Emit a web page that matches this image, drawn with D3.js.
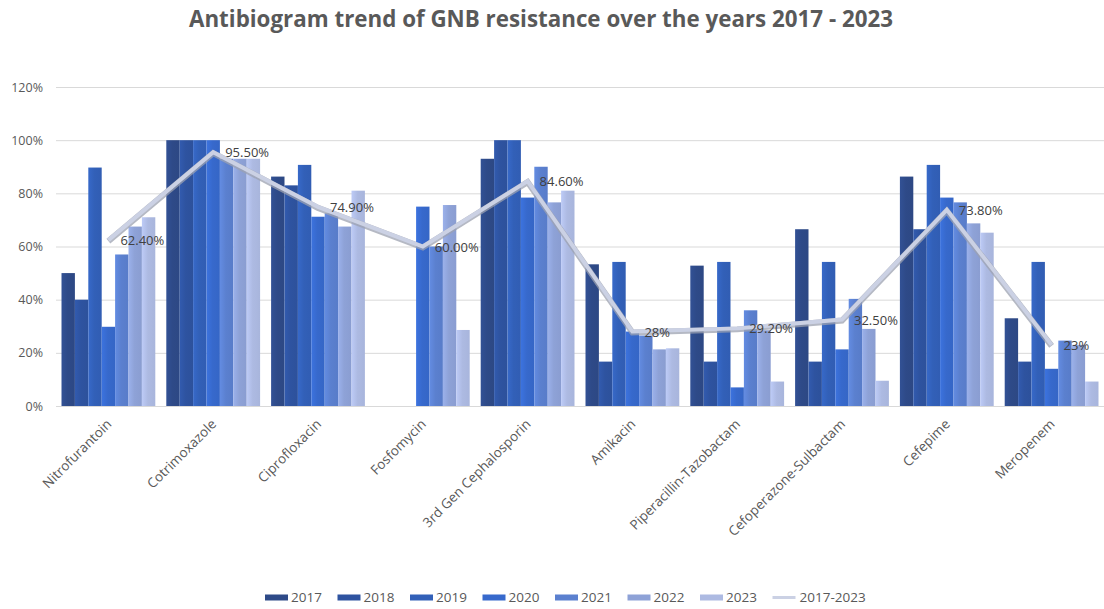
<!DOCTYPE html>
<html><head><meta charset="utf-8">
<script src="https://cdn.jsdelivr.net/npm/d3@7"></script>
<style>
body{margin:0;background:#fff;}
svg{display:block;font-family:"Open Sans",Arial,sans-serif;}
</style></head>
<body><svg id="c" width="1104" height="609"></svg>
<script>
const categories = ["Nitrofurantoin","Cotrimoxazole","Ciprofloxacin","Fosfomycin","3rd Gen Cephalosporin","Amikacin","Piperacillin-Tazobactam","Cefoperazone-Sulbactam","Cefepime","Meropenem"];
const years = ["2017","2018","2019","2020","2021","2022","2023"];
const v2017 = [50, 100, 86.3, 0, 93, 53.3, 52.8, 66.5, 86.3, 33];
const v2018 = [40, 100, 83, 0, 100, 16.7, 16.7, 16.7, 66.5, 16.7];
const v2019 = [89.7, 100, 90.7, 0, 100, 54.2, 54.2, 54.2, 90.7, 54.2];
const v2020 = [29.8, 100, 71.2, 75, 78.4, 28, 7, 21.3, 78.4, 14];
const v2021 = [57, 93, 72.5, 60, 90, 26.5, 36, 40.3, 76.6, 24.6];
const v2022 = [67.5, 93, 67.5, 75.6, 76.6, 21.3, 28.5, 29, 68.7, 23];
const v2023 = [71, 93, 81, 28.6, 81, 21.7, 9.2, 9.5, 65.2, 9.2];
const overall = [62.4, 95.5, 74.9, 60.0, 84.6, 28, 29.2, 32.5, 73.8, 23];
const overallLabels = ["62.40%","95.50%","74.90%","60.00%","84.60%","28%","29.20%","32.50%","73.80%","23%"];
const yTicks = [0,20,40,60,80,100,120];
const seriesValues = [v2017,v2018,v2019,v2020,v2021,v2022,v2023];
const colors = ["#2e4a88","#2e53a0","#3260b8","#3769cc","#5b80cf","#8ea2d7","#adbae2"];
const lineColor = "#cbd1e4";

const svg = d3.select("#c");
const W = 1104, H = 609;
const pLeft = 56, pRight = 1104, pTop = 87, pBottom = 406;

const x0 = d3.scaleBand().domain(categories).range([pLeft,pRight]).paddingInner(0.105).paddingOuter(0.0525);
const x1 = d3.scaleBand().domain(years).range([0,x0.bandwidth()]).padding(0);
const y = d3.scaleLinear().domain([0,120]).range([pBottom,pTop]);

const defs = svg.append("defs");
colors.forEach((c,i)=>{
  const g = defs.append("linearGradient").attr("id","g"+i).attr("x1","0").attr("x2","1").attr("y1","0").attr("y2","0");
  g.append("stop").attr("offset","0").attr("stop-color",d3.color(c).brighter(0.25));
  g.append("stop").attr("offset","0.45").attr("stop-color",c);
  g.append("stop").attr("offset","1").attr("stop-color",d3.color(c).darker(0.08));
});
defs.append("clipPath").attr("id","plotclip")
  .append("rect").attr("x",0).attr("y",0).attr("width",W).attr("height",H);

svg.append("text").attr("x",541).attr("y",27).attr("text-anchor","middle")
  .attr("font-size",23).attr("font-weight","bold").attr("fill","#595959")
  .attr("textLength",704).attr("lengthAdjust","spacingAndGlyphs")
  .text("Antibiogram trend of GNB resistance over the years 2017 - 2023");

svg.append("g").selectAll("line").data(yTicks).join("line")
  .attr("x1",pLeft).attr("x2",pRight).attr("y1",d=>y(d)+0.5).attr("y2",d=>y(d)+0.5)
  .attr("stroke","#d9d9d9").attr("stroke-width",1);

const yAxis = d3.axisLeft(y).tickValues(yTicks).tickFormat(d=>d+"%").tickSize(0).tickPadding(0);
const ya = svg.append("g").attr("transform",`translate(${pLeft-13},0)`).call(yAxis);
ya.select(".domain").remove();
ya.selectAll("text").attr("font-size",12.5).attr("fill","#595959").attr("font-family","Open Sans, Arial, sans-serif");

const gBars = svg.append("g").attr("clip-path","url(#plotclip)");
categories.forEach((cat,ci)=>{
  years.forEach((yr,si)=>{
    const v = seriesValues[si][ci];
    if(!v) return;
    gBars.append("rect")
      .attr("x",x0(cat)+x1(yr)).attr("width",x1.bandwidth())
      .attr("y",y(v)).attr("height",y(0)-y(v))
      .attr("fill",`url(#g${si})`);
  });
});

const xAxis = d3.axisBottom(x0).tickSize(0).tickPadding(0);
const xa = svg.append("g").attr("transform",`translate(0,${pBottom})`).call(xAxis);
xa.select(".domain").attr("stroke","#d9d9d9");
xa.selectAll("text").attr("font-size",13.5).attr("fill","#595959")
  .attr("font-family","Open Sans, Arial, sans-serif")
  .attr("text-anchor","end").attr("dy",0)
  .attr("transform","translate(4,19) rotate(-45)");

const cx = d=>x0(d)+x0.bandwidth()/2;
const lineGen = d3.line().x((d,i)=>cx(categories[i])).y(d=>y(d));
svg.append("path").datum(overall).attr("d",lineGen).attr("fill","none")
  .attr("stroke","#9ca2b0").attr("stroke-width",6).attr("stroke-linejoin","miter").attr("opacity",0.75)
  .attr("transform","translate(0,1)");
svg.append("path").datum(overall).attr("d",lineGen).attr("fill","none")
  .attr("stroke",lineColor).attr("stroke-width",4).attr("stroke-linejoin","miter");

svg.append("g").selectAll("text").data(overall).join("text")
  .attr("x",(d,i)=>cx(categories[i])+12).attr("y",d=>y(d)+5)
  .attr("font-size",13).attr("fill","#404040")
  .text((d,i)=>overallLabels[i]);

const leg = svg.append("g");
const legX = d3.scaleBand().domain([...years,"2017-2023"]).range([265,265+72.5*8]);
years.forEach((yr,i)=>{
  const lx = legX(yr);
  leg.append("rect").attr("x",lx).attr("y",594.5).attr("width",23).attr("height",6).attr("fill",colors[i]);
  leg.append("text").attr("x",lx+26).attr("y",602).attr("font-size",13.5).attr("fill","#595959").text(yr);
});
const llx = legX("2017-2023");
leg.append("line").attr("x1",llx).attr("x2",llx+23).attr("y1",597.5).attr("y2",597.5).attr("stroke",lineColor).attr("stroke-width",3);
leg.append("text").attr("x",llx+27).attr("y",602).attr("font-size",13.5).attr("fill","#595959").text("2017-2023");
</script></body></html>
